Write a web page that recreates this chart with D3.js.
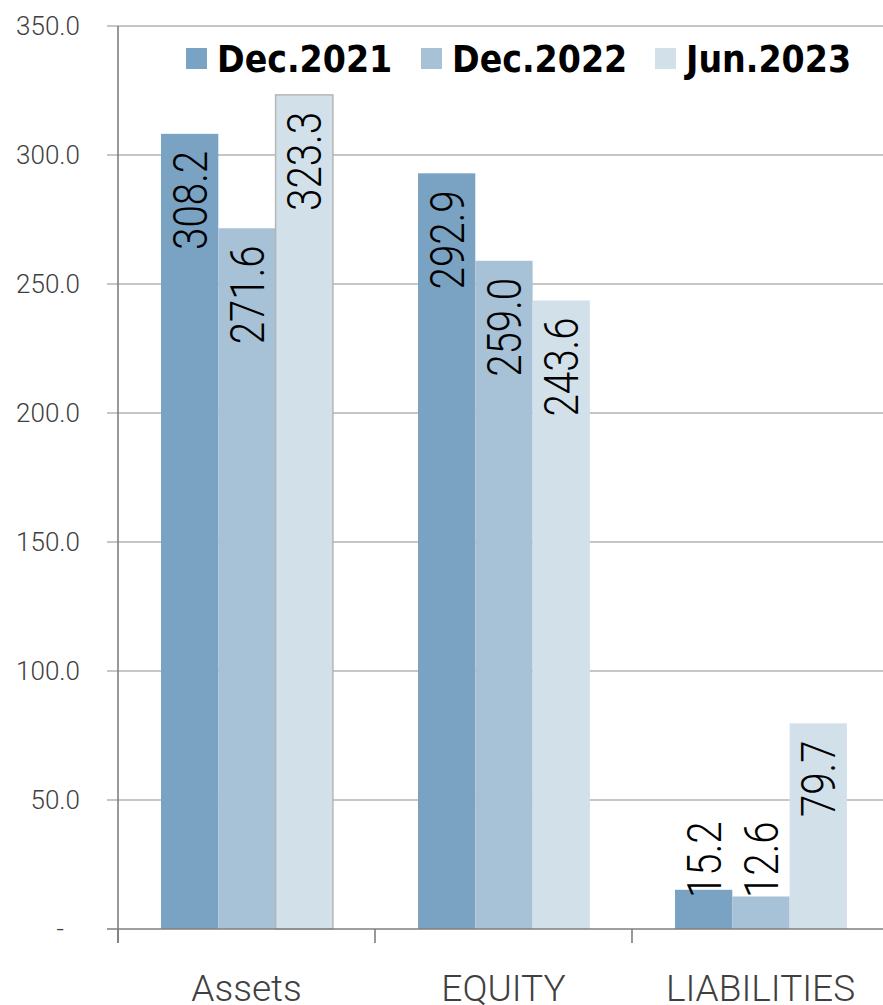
<!DOCTYPE html>
<html lang="en">
<head>
   <meta charset="utf-8">
   <title>Assets, equity and liabilities</title>
   <style type="text/css">
       body{
           margin: 0;
           background: #fff;
       }
       .grid line{
           stroke: #b3b3b3;
           stroke-width: 1.6px;
       }
       .axis path, .axis line{
           stroke: #7f7f7f;
           stroke-width: 1.6px;
       }
       .y-label{
           font-family: Roboto, sans-serif;
           font-weight: 300;
           font-size: 26px;
           fill: #404040;
           text-anchor: end;
       }
       .cat-label{
           font-family: Roboto, sans-serif;
           font-weight: 300;
           font-size: 37px;
           fill: #404040;
           text-anchor: middle;
       }
       .value-label{
           font-family: Roboto, sans-serif;
           font-weight: 300;
           font-size: 48px;
           fill: #000;
       }
       .legend-label{
           font-family: "DejaVu Sans Condensed", "DejaVu Sans", sans-serif;
           font-stretch: condensed;
           font-weight: bold;
           font-size: 37px;
           fill: #000;
       }
   </style>
</head>
<body>
<script src="https://d3js.org/d3.v7.min.js" charset="utf-8"></script>
<script>
    var categories = ['Assets', 'EQUITY', 'LIABILITIES']
    var seriesNames = ['Dec.2021', 'Dec.2022', 'Jun.2023']
    var dec2021 = [308.2, 292.9, 15.2]
    var dec2022 = [271.6, 259.0, 12.6]
    var jun2023 = [323.3, 243.6, 79.7]
    var tickValues = [0, 50, 100, 150, 200, 250, 300, 350]

    var colors = ['#7aa2c2', '#a7c1d6', '#d2e0ea']
    var seriesValues = [dec2021, dec2022, jun2023]

    var width = 883, height = 1005
    var plotLeft = 118, plotTop = 26, plotBottom = 929
    var bandWidth = 257

    var svg = d3.select('body')
        .append('svg')
            .attr('width', width)
            .attr('height', height)

    var y = d3.scaleLinear()
        .domain([0, 350])
        .range([plotBottom, plotTop])

    var x0 = d3.scaleBand()
        .domain(categories)
        .range([plotLeft, plotLeft + bandWidth * categories.length])

    var x1 = d3.scaleBand()
        .domain(seriesNames)
        .range([43, 43 + 57.3 * 3])

    // gridlines (with the short tick to the left of the axis)
    svg.append('g')
        .attr('class', 'grid')
        .selectAll('line')
        .data(tickValues.filter(function(d) { return d > 0; }))
        .enter().append('line')
            .attr('x1', plotLeft - 11)
            .attr('x2', width)
            .attr('y1', function(d) { return y(d); })
            .attr('y2', function(d) { return y(d); })

    // y tick labels
    svg.append('g')
        .selectAll('text')
        .data(tickValues)
        .enter().append('text')
            .attr('class', 'y-label')
            .attr('x', function(d) { return d === 0 ? 64 : 80; })
            .attr('y', function(d) { return y(d); })
            .attr('dy', '0.36em')
            .text(function(d) { return d === 0 ? '-' : d.toFixed(1); })

    // bars
    var rows = []
    categories.forEach(function(c, i) {
        seriesNames.forEach(function(s, j) {
            rows.push({cat: c, series: s, j: j, value: seriesValues[j][i]})
        })
    })

    var bars = svg.append('g')
    bars.selectAll('rect')
        .data(rows)
        .enter().append('rect')
            .attr('x', function(d) { return x0(d.cat) + x1(d.series); })
            .attr('y', function(d) { return y(d.value); })
            .attr('width', x1.bandwidth())
            .attr('height', function(d) { return plotBottom - y(d.value); })
            .attr('fill', function(d) { return colors[d.j]; })
            .attr('stroke', function(d) { return d.cat === 'Assets' && d.j === 2 ? '#b5b5b5' : 'none'; })
            .attr('stroke-width', 1.5)

    // axes lines
    var axis = svg.append('g').attr('class', 'axis')
    axis.append('line')
        .attr('x1', plotLeft).attr('x2', plotLeft)
        .attr('y1', plotTop).attr('y2', plotBottom + 14)
    axis.append('line')
        .attr('x1', plotLeft - 11).attr('x2', width)
        .attr('y1', plotBottom).attr('y2', plotBottom)
    axis.selectAll('.cat-tick')
        .data(categories)
        .enter().append('line')
            .attr('class', 'cat-tick')
            .attr('x1', function(d) { return x0(d); })
            .attr('x2', function(d) { return x0(d); })
            .attr('y1', plotBottom)
            .attr('y2', plotBottom + 14)

    // category labels
    svg.append('g')
        .selectAll('text')
        .data(categories)
        .enter().append('text')
            .attr('class', 'cat-label')
            .attr('x', function(d) { return x0(d) + bandWidth / 2; })
            .attr('y', 1001)
            .text(function(d) { return d; })

    // value labels, rotated and squeezed; labels that don't fit sit above the base
    svg.append('g')
        .selectAll('text')
        .data(rows)
        .enter().append('text')
            .attr('class', 'value-label')
            .attr('transform', function(d) {
                var cx = x0(d.cat) + x1(d.series) + x1.bandwidth() / 2
                var fits = plotBottom - y(d.value) > 110
                var ty = fits ? y(d.value) + 17 : plotBottom - 31
                return 'translate(' + cx + ',' + ty + ') rotate(-90) scale(0.84,1)'
            })
            .attr('text-anchor', function(d) { return plotBottom - y(d.value) > 110 ? 'end' : 'start'; })
            .attr('dy', '0.355em')
            .text(function(d) { return d.value.toFixed(1); })

    // legend
    var legendX = [186, 421, 655]
    var legend = svg.append('g')
        .selectAll('g')
        .data(seriesNames)
        .enter().append('g')
            .attr('transform', function(d, i) { return 'translate(' + legendX[i] + ',48)'; })
    legend.append('rect')
        .attr('width', 21)
        .attr('height', 21)
        .attr('fill', function(d, i) { return colors[i]; })
    legend.append('text')
        .attr('class', 'legend-label')
        .attr('x', 31)
        .attr('y', 24)
        .text(function(d) { return d; })
</script>
</body>
</html>
